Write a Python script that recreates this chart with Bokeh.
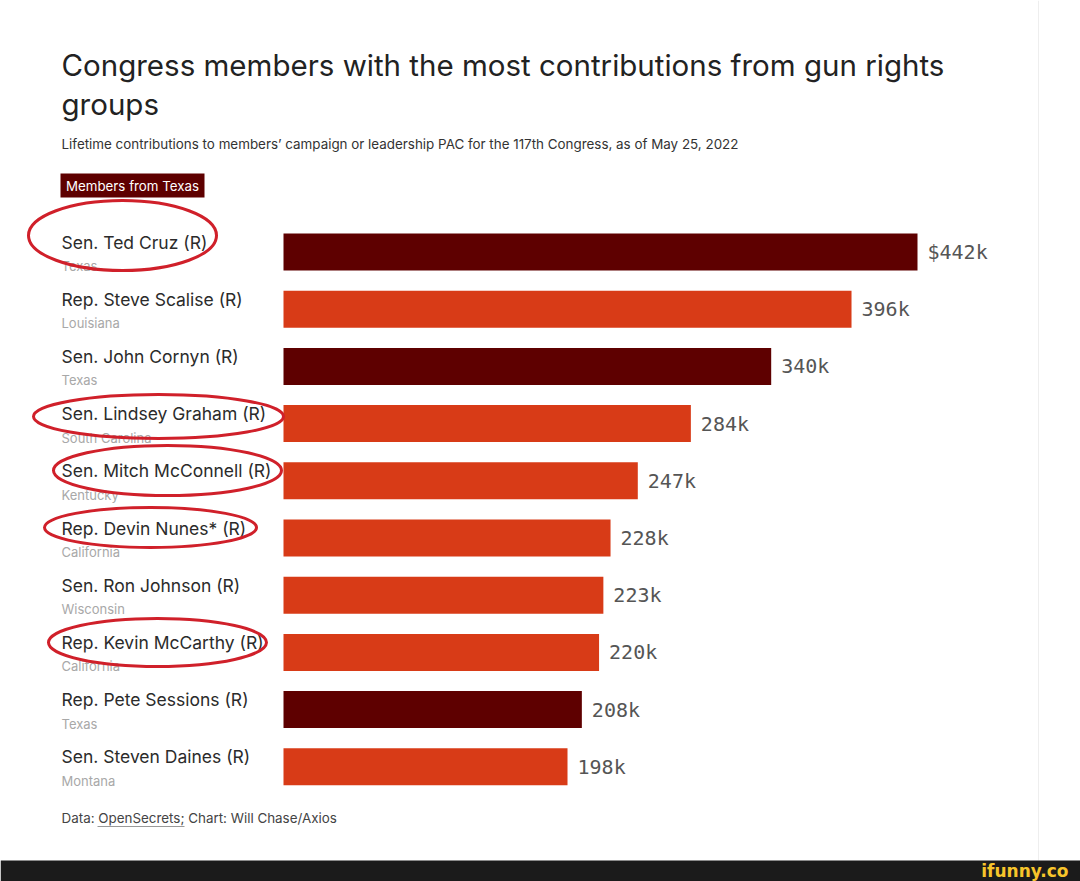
from bokeh.plotting import figure
from bokeh.models import Range1d, ColumnDataSource
from bokeh.core.properties import value
from bokeh.embed import file_html
from bokeh.resources import INLINE

# ---- data ----
names = ["Sen. Ted Cruz (R)", "Rep. Steve Scalise (R)", "Sen. John Cornyn (R)",
         "Sen. Lindsey Graham (R)", "Sen. Mitch McConnell (R)", "Rep. Devin Nunes* (R)",
         "Sen. Ron Johnson (R)", "Rep. Kevin McCarthy (R)", "Rep. Pete Sessions (R)",
         "Sen. Steven Daines (R)"]
states = ["Texas", "Louisiana", "Texas", "South Carolina", "Kentucky", "California",
          "Wisconsin", "California", "Texas", "Montana"]
amounts_k = [442, 396, 340, 284, 247, 228, 223, 220, 208, 198]
value_labels = ["$442k", "396k", "340k", "284k", "247k", "228k", "223k", "220k", "208k", "198k"]

TEXAS = "#5e0000"
OTHER = "#d83b17"

W, H = 1080, 881
BAR_LEFT_PX = 283
PX_PER_K = (917 - 283) / 442.0

p = figure(width=W, height=H, output_backend="svg", toolbar_location=None,
           x_range=Range1d(-BAR_LEFT_PX / PX_PER_K, (W - BAR_LEFT_PX) / PX_PER_K),
           y_range=Range1d(H, 0), min_border=0, border_fill_color="white",
           background_fill_color="white", outline_line_color=None)
p.axis.visible = False
p.grid.visible = False
p.extra_x_ranges = {"px": Range1d(0, W)}

# row layout
y0, step, bh = 251.5, 57.2, 37
yc = [y0 + i * step for i in range(len(names))]
colors = [TEXAS if s == "Texas" else OTHER for s in states]

src = ColumnDataSource(dict(
    y=yc, amt=amounts_k, color=colors, names=names, states=states, vl=value_labels,
    name_y=[y - 10 for y in yc], state_y=[y + 14 for y in yc],
))

p.hbar(y="y", left=0, right="amt", height=bh, fill_color="color", line_color=None, source=src)

# value labels placed after the bar end
p.text(x="amt", y="y", text="vl", x_offset=10, source=src,
       text_font=value("DejaVu Sans Mono"), text_font_size="20px", text_color="#555555",
       text_baseline="middle", text_align="left")

# names & states
p.text(x=61, y="name_y", text="names", source=src, x_range_name="px",
       text_font=value("Inter"), text_font_size="17.5px", text_color="#2b2b2b",
       text_baseline="middle", text_align="left")
p.text(x=61, y="state_y", text="states", source=src, x_range_name="px",
       text_font=value("Inter"), text_font_size="13px", text_color="#a8a8a8",
       text_baseline="middle", text_align="left")

# title / subtitle
p.text(x=[61, 61], y=[64, 103],
       text=["Congress members with the most contributions from gun rights", "groups"],
       x_range_name="px", text_font=value("Inter"), text_font_size="29.5px",
       text_color="#222222", text_baseline="middle", text_align="left")
p.text(x=[61], y=[143],
       text=["Lifetime contributions to members\u2019 campaign or leadership PAC for the 117th Congress, as of May 25, 2022"],
       x_range_name="px", text_font=value("Inter"), text_font_size="13.4px",
       text_color="#333333", text_baseline="middle", text_align="left")

# legend box
p.quad(left=[60], right=[204], top=[173], bottom=[197], x_range_name="px",
       fill_color=TEXAS, line_color=None)
p.text(x=[132], y=[185], text=["Members from Texas"], x_range_name="px",
       text_font=value("Inter"), text_font_size="13.3px", text_color="white",
       text_baseline="middle", text_align="center")

# footer
p.text(x=[61], y=[817], text=["Data: OpenSecrets; Chart: Will Chase/Axios"], x_range_name="px",
       text_font=value("Inter"), text_font_size="13.4px", text_color="#444444",
       text_baseline="middle", text_align="left")
p.segment(x0=[97], x1=[184], y0=[826], y1=[826], x_range_name="px",
          line_color="#999999", line_width=1)

# right divider line
p.segment(x0=[1038], x1=[1038], y0=[0], y1=[860], x_range_name="px",
          line_color="#eeeeee", line_width=1)

# hand-drawn red ellipses (annotation)
ell = dict(
    x=[122, 158, 167, 150, 157],
    y=[235, 416, 470, 527, 642],
    w=[188, 250, 228, 212, 218],
    h=[70, 44, 50, 40, 48],
)
p.ellipse(x="x", y="y", width="w", height="h", source=ColumnDataSource(ell),
          width_units="screen", height_units="screen", x_range_name="px",
          fill_color=None, line_color="#d0202a", line_width=3)

# bottom watermark band
p.quad(left=[0], right=[W], top=[860], bottom=[H], x_range_name="px",
       fill_color="#1b1b1b", line_color=None)
p.text(x=[1068], y=[870], text=["ifunny.co"], x_range_name="px",
       text_font=value("DejaVu Sans"), text_font_style="bold", text_font_size="17px",
       text_color="#f7c52b", text_baseline="middle", text_align="right")

open("out.html", "w").write(file_html(p, INLINE))
